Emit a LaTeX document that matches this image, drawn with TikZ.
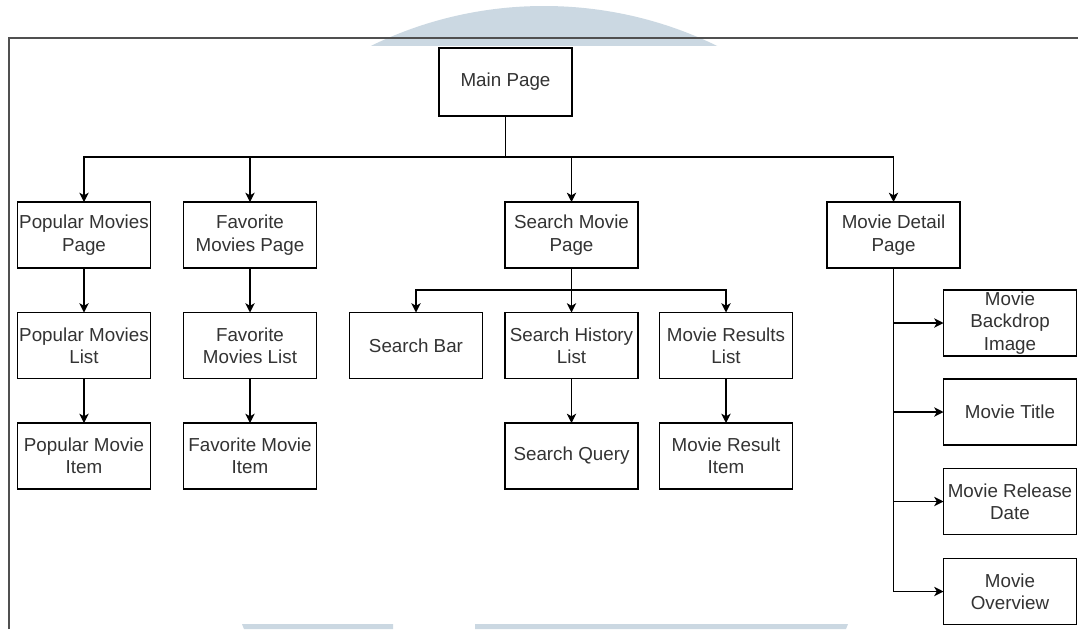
\documentclass[tikz,border=0pt]{standalone}
\usepackage{fontspec}
\setmainfont{Liberation Sans}
\usetikzlibrary{arrows.meta}
\definecolor{wmark}{HTML}{CBD8E2}
\definecolor{frameline}{HTML}{505050}
\definecolor{txt}{HTML}{333333}
\tikzset{
  box/.style={draw=black, line width=0.9pt, minimum width=99.75pt, minimum height=49.5pt,
    inner sep=0pt, outer sep=0pt, align=center, text=txt,
    font=\fontsize{14.1}{16.8}\selectfont},
  conn/.style={draw=black, line width=0.9pt, -{Stealth[length=7pt,width=7pt,inset=2pt]}},
  link/.style={draw=black, line width=0.9pt},
}
\begin{document}
\begin{tikzpicture}[x=0.75pt, y=-0.75pt]
  \useasboundingbox (0,0) rectangle (1078,629);
  \fill[white] (0,0) rectangle (1078,629);

  % faint logo shapes in the background
  \begin{scope}
    \clip (0,0) rectangle (1078,45);
    \fill[wmark] (544,400.4) circle[radius=394.4];
  \end{scope}
  \fill[wmark] (242,624) -- (393,624) -- (393,629) -- (244,629) -- cycle;
  \fill[wmark] (475,624) -- (848,624) -- (846,629) -- (475,629) -- cycle;

  % page frame
  \draw[frameline, line width=1.3pt] (9,629) -- (9,38) -- (1078,38);

  % nodes
  \node[box, minimum height=51pt] (main) at (505.5,82) {Main Page};

  \node[box] (popp) at (84,235) {Popular Movies\\Page};
  \node[box] (favp) at (250,235) {Favorite\\Movies Page};
  \node[box] (srch) at (571.5,235) {Search Movie\\Page};
  \node[box] (det)  at (893.5,235) {Movie Detail\\Page};

  \node[box] (popl) at (84,345.5) {Popular Movies\\List};
  \node[box] (favl) at (250,345.5) {Favorite\\Movies List};
  \node[box] (sbar) at (416,345.5) {Search Bar};
  \node[box] (shis) at (571.5,345.5) {Search History\\List};
  \node[box] (mres) at (726,345.5) {Movie Results\\List};

  \node[box] (popi) at (84,456) {Popular Movie\\Item};
  \node[box] (favi) at (250,456) {Favorite Movie\\Item};
  \node[box] (sq)   at (571.5,456) {Search Query};
  \node[box] (mri)  at (726,456) {Movie Result\\Item};

  \node[box] (bd)  at (1010,323) {Movie\\Backdrop\\Image};
  \node[box] (tit) at (1010,412) {Movie Title};
  \node[box] (rel) at (1010,501.5) {Movie Release\\Date};
  \node[box] (ov)  at (1010,591.5) {Movie\\Overview};

  % connectors
  \coordinate (bus) at (505.5,157);
  \path[link] (main.south) -- (bus);
  \draw[conn] (bus) -| (popp.north);
  \draw[conn] (bus) -| (favp.north);
  \draw[conn] (bus) -| (srch.north);
  \draw[conn] (bus) -| (det.north);

  \draw[conn] (popp) -- (popl);
  \draw[conn] (popl) -- (popi);
  \draw[conn] (favp) -- (favl);
  \draw[conn] (favl) -- (favi);

  \coordinate (sbus) at (571.5,290);
  \path[link] (srch.south) -- (sbus);
  \draw[conn] (sbus) -| (sbar.north);
  \draw[conn] (sbus) -- (shis.north);
  \draw[conn] (sbus) -| (mres.north);
  \draw[conn] (shis) -- (sq);
  \draw[conn] (mres) -- (mri);

  \draw[conn] (det.south) |- (bd.west);
  \draw[conn] (det.south) |- (tit.west);
  \draw[conn] (det.south) |- (rel.west);
  \draw[conn] (det.south) |- (ov.west);
\end{tikzpicture}
\end{document}
